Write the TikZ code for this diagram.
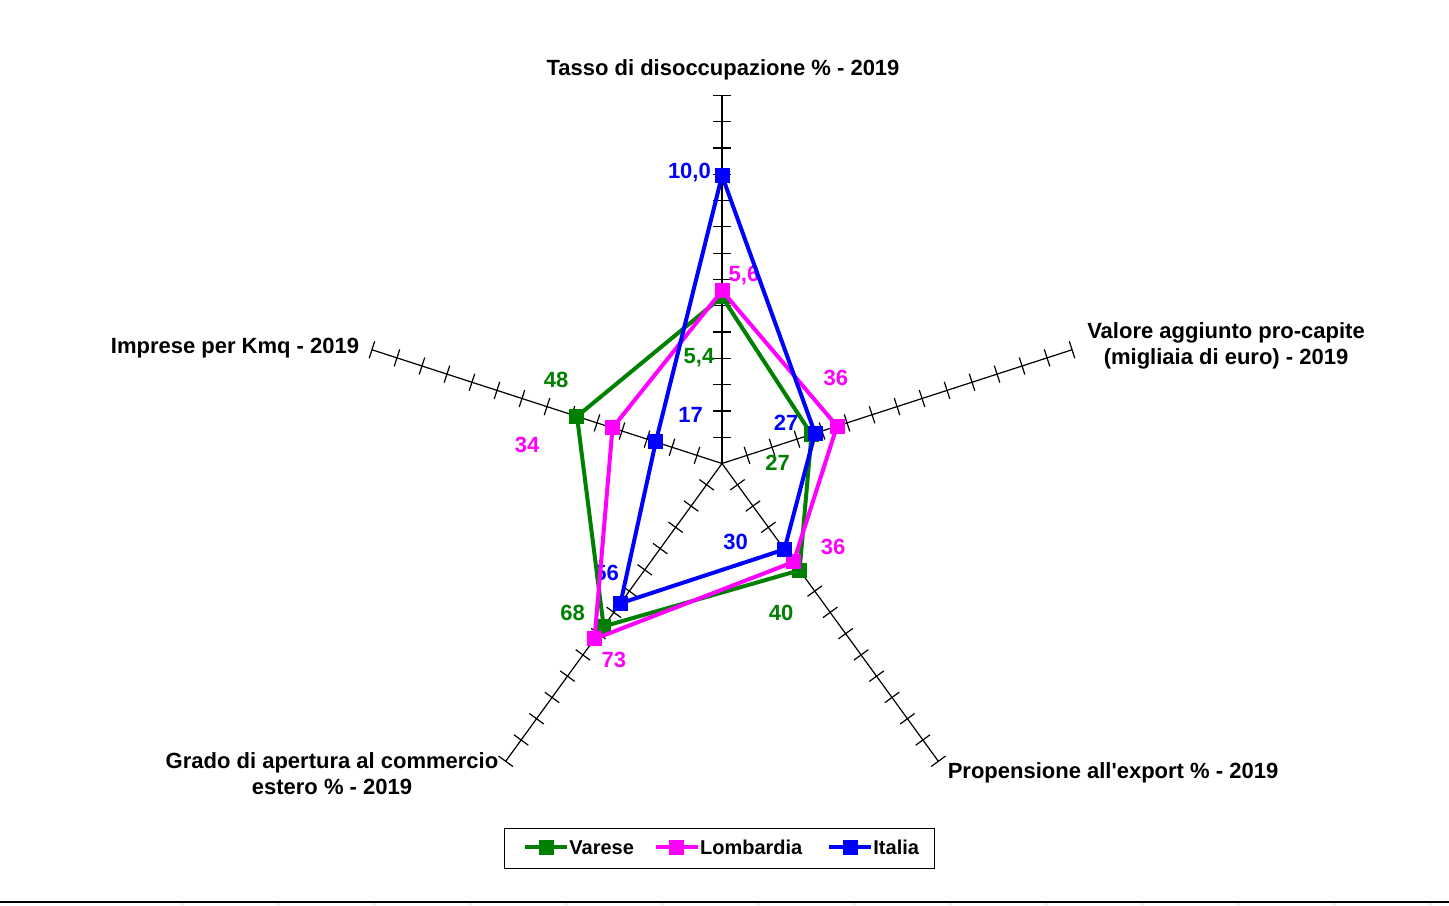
\documentclass[tikz,border=0pt]{standalone}
\usepackage{fontspec}
\setmainfont{Liberation Sans}
\definecolor{varese}{RGB}{0,128,0}
\definecolor{lombardia}{RGB}{255,0,255}
\definecolor{italia}{RGB}{0,0,255}
\tikzset{
  chart/.style={shift={(722,441.5)},x=13.145pt,y=13.145pt},
  serie/.style={line width=2pt},
  mk/.style={fill,inner sep=0pt,minimum size=7.5pt},
  axe/.style={line width=.6pt}
}
\begin{document}
\begin{tikzpicture}[x=.5pt,y=.5pt,font=\fontsize{11}{13}\selectfont\bfseries]
\useasboundingbox (0,0) rectangle (1449,905);
\draw[line width=1pt] (0,3.3)--(1449,3.3);
\foreach \x in {0,...,13}\draw[black!20] (182.3+96*\x,0)--++(0,2.5);
\begin{scope}[chart]
\foreach \a in {90,18,-54,-126,162}{
  \draw[axe] (0,0)--(\a:14);
  \foreach \k in {1,...,14}\draw[axe] (\a:\k)++(\a+90:.34)--++(\a-90:.68);
}
\end{scope}
\node[anchor=base] (tasso) at (723,829) {Tasso di disoccupazione \% - 2019};
\node[align=center] (valore) at (1226,559.5) {Valore aggiunto pro-capite\\(migliaia di euro) - 2019};
\node[anchor=base] (export) at (1113,127) {Propensione all\textquotesingle export \% - 2019};
\node[align=center] (grado) at (332,131.5) {Grado di apertura al commercio\\estero \% - 2019};
\node[anchor=base] (imprese) at (235,551) {Imprese per Kmq - 2019};
\foreach \c/\x/\y/\t [count=\i] in {italia/689.4/173/{10,0}, lombardia/744/275.5/{5,6}, varese/699/357.5/{5,4},
  italia/690.7/415/17, lombardia/835.8/378.3/36, italia/786/423.3/27, varese/777.5/463.3/27,
  varese/556/380/48, lombardia/527/445/34, italia/735.5/541.7/30, lombardia/833/547.3/36,
  varese/781/613.3/40, italia/606.7/573.3/56, varese/572.5/612.7/68, lombardia/613.8/660/73}
  \node[\c] (val\i) at (\x,905-\y) {\t};
\begin{scope}[chart]
\foreach \s/\c/\ra/\rb/\rc/\rd/\re in {V/varese/6.34/3.58/5.02/7.66/5.80,
  L/lombardia/6.57/4.60/4.63/8.25/4.38, I/italia/10.95/3.72/4.04/6.57/2.65}{
  \draw[serie,\c] (90:\ra) coordinate (\s1) -- (18:\rb) coordinate (\s2) -- (-54:\rc) coordinate (\s3)
    -- (-126:\rd) coordinate (\s4) -- (162:\re) coordinate (\s5) -- cycle;
  \foreach \i in {1,...,5}\node[mk,\c] (m\s\i) at (\s\i) {};
}
\end{scope}
\draw (504,77) rectangle (934,37);
\foreach \c/\x/\t in {varese/525/Varese, lombardia/655.7/Lombardia, italia/829/Italia}{
  \draw[serie,\c] (\x,57.7)--++(42,0);
  \node[mk,\c] (k\t) at (\x+21,57.7) {};
  \node[anchor=west,inner sep=0pt,font=\fontsize{10}{12}\selectfont\bfseries] (t\t) at (\x+44,57.7) {\t};
}
\end{tikzpicture}
\end{document}
